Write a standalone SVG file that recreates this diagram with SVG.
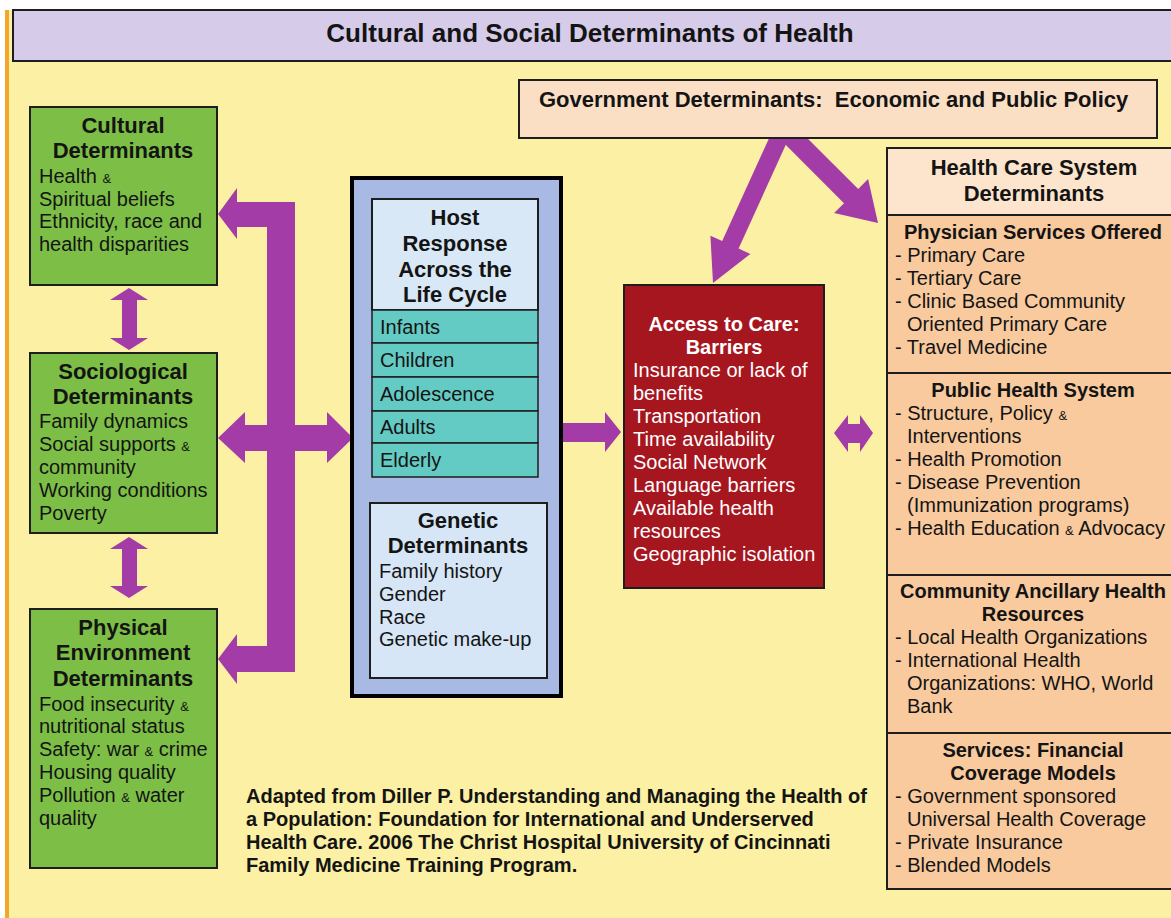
<svg xmlns="http://www.w3.org/2000/svg" width="1171" height="918" viewBox="0 0 1171 918">
<style>
text{font-family:"Liberation Sans",Arial,Helvetica,sans-serif;fill:#141414}
.t{font-weight:bold;font-size:22px;text-anchor:middle}
.h{font-weight:bold;font-size:20px;text-anchor:middle}
.r{font-size:20px}
.amp{font-size:13px}
.w{fill:#ffffff}
.bx{stroke:#1e1e1e;stroke-width:2}
.green{fill:#7DBF46}
.peach{fill:#F8CA9E}
.row{fill:#64CBC4;stroke:#1e1e1e;stroke-width:1.5}
.arr{fill:#A43CA8}
</style>
<rect x="0" y="0" width="1171" height="918" fill="#ffffff"/>
<rect x="9" y="10" width="1162" height="908" fill="#FBF0A3"/>
<rect x="5" y="10" width="4" height="908" fill="#F4A52C"/>

<g id="title">
<rect x="13" y="10" width="1170" height="51" fill="#D6CCEA" class="bx"/>
<text x="590" y="42" style="font-weight:bold;font-size:26px;text-anchor:middle">Cultural and Social Determinants of Health</text>
</g>

<g id="connectors" class="arr">
<polygon points="218,214 237,188 237,202 295,202 295,672 237,672 237,684 218,659 237,634 237,646 267,646 267,227 237,227 237,239"/>
<polygon points="218,438 245,412 245,425 327,425 327,412 353,438 327,463 327,451 245,451 245,463"/>
<polygon points="129,288 148,300 137,300 137,338 148,338 129,350 110,338 122,338 122,300 110,300"/>
<polygon points="129,537 148,549 137,549 137,586 148,586 129,598 110,586 122,586 122,549 110,549"/>
<polygon points="562,423 605,423 605,412 621,432 605,452 605,442 562,442"/>
<polygon points="834,433 848,415 848,424 860,424 860,415 873,433 860,452 860,443 848,443 848,452"/>
<polygon points="774.4,126.4 790.8,133.8 738.6,248.5 750.4,253.9 713,283 710.4,235.7 722.2,241.1"/>
<polygon points="775.9,135.1 844,203.2 834.1,213.1 878,223 868.1,179.1 858.2,189 790.1,120.9"/>
</g>

<g id="gov">
<rect x="519" y="80" width="638" height="58" fill="#FBDFC4" class="bx"/>
<text x="539" y="107" style="font-weight:bold;font-size:22px">Government Determinants:&#160; Economic and Public Policy</text>
</g>

<g id="cultural">
<rect x="30" y="107" width="187" height="178" class="green bx"/>
<text class="t" x="123" y="133">Cultural</text>
<text class="t" x="123" y="158">Determinants</text>
<text class="r" x="39" y="183">Health <tspan class="amp">&amp;</tspan></text>
<text class="r" x="39" y="206">Spiritual beliefs</text>
<text class="r" x="39" y="228">Ethnicity, race and</text>
<text class="r" x="39" y="251">health disparities</text>
</g>

<g id="sociological">
<rect x="30" y="353" width="187" height="180" class="green bx"/>
<text class="t" x="123" y="379">Sociological</text>
<text class="t" x="123" y="404">Determinants</text>
<text class="r" x="39" y="428">Family dynamics</text>
<text class="r" x="39" y="451">Social supports <tspan class="amp">&amp;</tspan></text>
<text class="r" x="39" y="474">community</text>
<text class="r" x="39" y="497">Working conditions</text>
<text class="r" x="39" y="520">Poverty</text>
</g>

<g id="physical">
<rect x="30" y="609" width="187" height="259" class="green bx"/>
<text class="t" x="123" y="635">Physical</text>
<text class="t" x="123" y="660">Environment</text>
<text class="t" x="123" y="686">Determinants</text>
<text class="r" x="39" y="711">Food insecurity <tspan class="amp">&amp;</tspan></text>
<text class="r" x="39" y="733">nutritional status</text>
<text class="r" x="39" y="756">Safety: war <tspan class="amp">&amp;</tspan> crime</text>
<text class="r" x="39" y="779">Housing quality</text>
<text class="r" x="39" y="802">Pollution <tspan class="amp">&amp;</tspan> water</text>
<text class="r" x="39" y="825">quality</text>
</g>

<g id="host">
<rect x="352" y="178" width="209" height="518" fill="#A8B9E3" stroke="#000" stroke-width="4"/>
<rect x="372" y="199" width="166" height="111" fill="#D8E8F6" class="bx"/>
<text class="t" x="455" y="225">Host</text>
<text class="t" x="455" y="251">Response</text>
<text class="t" x="455" y="277">Across the</text>
<text class="t" x="455" y="302">Life Cycle</text>
<rect x="372" y="310" width="166" height="33" class="row"/>
<rect x="372" y="343" width="166" height="34" class="row"/>
<rect x="372" y="377" width="166" height="34" class="row"/>
<rect x="372" y="411" width="166" height="32" class="row"/>
<rect x="372" y="443" width="166" height="34" class="row"/>
<text class="r" x="380" y="334">Infants</text>
<text class="r" x="380" y="367">Children</text>
<text class="r" x="380" y="401">Adolescence</text>
<text class="r" x="380" y="434">Adults</text>
<text class="r" x="380" y="467">Elderly</text>
</g>

<g id="genetic">
<rect x="370" y="503" width="177" height="175" fill="#D6E6F6" class="bx"/>
<text class="t" x="458" y="528">Genetic</text>
<text class="t" x="458" y="553">Determinants</text>
<text class="r" x="379" y="578">Family history</text>
<text class="r" x="379" y="601">Gender</text>
<text class="r" x="379" y="624">Race</text>
<text class="r" x="379" y="646">Genetic make-up</text>
</g>

<g id="access">
<rect x="624" y="285" width="200" height="303" fill="#A6161F" class="bx"/>
<text class="h w" x="724" y="331">Access to Care:</text>
<text class="h w" x="724" y="354">Barriers</text>
<text class="r w" x="633" y="377">Insurance or lack of</text>
<text class="r w" x="633" y="400">benefits</text>
<text class="r w" x="633" y="423">Transportation</text>
<text class="r w" x="633" y="446">Time availability</text>
<text class="r w" x="633" y="469">Social Network</text>
<text class="r w" x="633" y="492">Language barriers</text>
<text class="r w" x="633" y="515">Available health</text>
<text class="r w" x="633" y="538">resources</text>
<text class="r w" x="633" y="561">Geographic isolation</text>
</g>

<g id="hcs-header">
<rect x="887" y="148" width="292" height="67" fill="#FCE5CC" class="bx"/>
<text class="t" x="1034" y="175">Health Care System</text>
<text class="t" x="1034" y="201">Determinants</text>
</g>

<g id="physician">
<rect x="887" y="215" width="292" height="158" class="peach bx"/>
<text class="h" x="1033" y="239">Physician Services Offered</text>
<text class="r" x="895" y="262">- Primary Care</text>
<text class="r" x="895" y="285">- Tertiary Care</text>
<text class="r" x="895" y="308">- Clinic Based Community</text>
<text class="r" x="907" y="331">Oriented Primary Care</text>
<text class="r" x="895" y="354">- Travel Medicine</text>
</g>

<g id="public-health">
<rect x="887" y="373" width="292" height="202" class="peach bx"/>
<text class="h" x="1033" y="397">Public Health System</text>
<text class="r" x="895" y="420">- Structure, Policy <tspan class="amp">&amp;</tspan></text>
<text class="r" x="907" y="443">Interventions</text>
<text class="r" x="895" y="466">- Health Promotion</text>
<text class="r" x="895" y="489">- Disease Prevention</text>
<text class="r" x="907" y="512">(Immunization programs)</text>
<text class="r" x="895" y="535">- Health Education <tspan class="amp">&amp;</tspan> Advocacy</text>
</g>

<g id="community">
<rect x="887" y="575" width="292" height="158" class="peach bx"/>
<text class="h" x="1033" y="598">Community Ancillary Health</text>
<text class="h" x="1033" y="621">Resources</text>
<text class="r" x="895" y="644">- Local Health Organizations</text>
<text class="r" x="895" y="667">- International Health</text>
<text class="r" x="907" y="690">Organizations: WHO, World</text>
<text class="r" x="907" y="713">Bank</text>
</g>

<g id="financial">
<rect x="887" y="733" width="292" height="156" class="peach bx"/>
<text class="h" x="1033" y="757">Services: Financial</text>
<text class="h" x="1033" y="780">Coverage Models</text>
<text class="r" x="895" y="803">- Government sponsored</text>
<text class="r" x="907" y="826">Universal Health Coverage</text>
<text class="r" x="895" y="849">- Private Insurance</text>
<text class="r" x="895" y="872">- Blended Models</text>
</g>

<g id="citation" style="font-weight:bold;font-size:20px">
<text x="246" y="803">Adapted from Diller P. Understanding and Managing the Health of</text>
<text x="246" y="826">a Population: Foundation for International and Underserved</text>
<text x="246" y="849">Health Care. 2006 The Christ Hospital University of Cincinnati</text>
<text x="246" y="872">Family Medicine Training Program.</text>
</g>
</svg>
